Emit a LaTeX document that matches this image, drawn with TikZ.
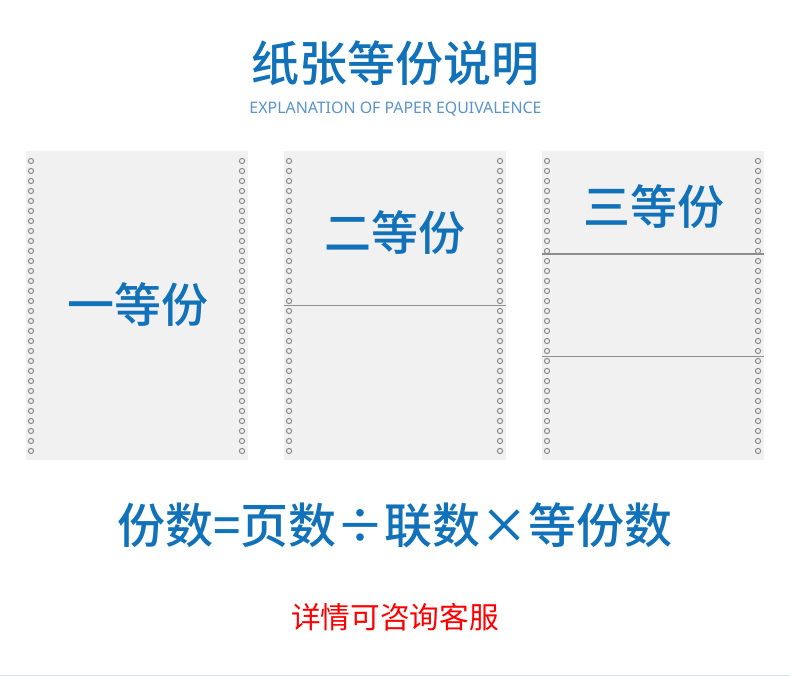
\documentclass[tikz,border=0pt]{standalone}
\usepackage{fontspec}
\newfontfamily\cjk{Noto Sans CJK SC}
\newfontfamily\cjkmed{Noto Sans CJK SC Medium}
\newfontfamily\latinsans{Noto Sans}
\definecolor{titleblue}{HTML}{1272B9}
\definecolor{subblue}{HTML}{5A94CC}
\definecolor{panelgray}{HTML}{F1F1F1}
\definecolor{holegray}{HTML}{8A8A8A}
\definecolor{divgray}{HTML}{8E8E8E}
\definecolor{bottomline}{HTML}{D6E6F5}
\begin{document}
\begin{tikzpicture}[x=1pt,y=-1pt,
  panel/.style={fill=panelgray,draw=none},
  hole/.style={draw=holegray,line width=1pt,fill=none},
  divider/.style={draw=divgray,line width=1.5pt},
  paneltext/.style={text=titleblue,font=\cjkmed\fontsize{47}{50}\selectfont,inner sep=0pt},
]
\useasboundingbox[fill=white] (0,0) rectangle (790,676);
% title
\node[text=titleblue,font=\cjkmed\fontsize{48}{52}\selectfont,inner sep=0pt] (title) at (395,63) {纸张等份说明};
\node[text=subblue,font=\latinsans\fontsize{15.9}{18}\selectfont,inner sep=0pt] (subtitle) at (395.5,109) {EXPLANATION OF PAPER EQUIVALENCE};
% panels
\foreach \px/\nm in {26/p1,284/p2,542/p3}{
  \path[panel] (\px,151) rectangle (\px+222,460);
  \foreach \i in {0,...,29}{
    \draw[hole] (\px+5,161+10*\i) circle (2.6);
    \draw[hole] (\px+216,161+10*\i) circle (2.6);
  }
}
\coordinate (d1a) at (284,305.5); \coordinate (d1b) at (506,305.5);
\draw[divider] (d1a) -- (d1b);
\coordinate (d2a) at (542,254); \coordinate (d2b) at (764,254);
\draw[divider] (d2a) -- (d2b);
\coordinate (d3a) at (542,356.5); \coordinate (d3b) at (764,356.5);
\draw[divider] (d3a) -- (d3b);
\node[paneltext] (t1) at (137.5,305) {一等份};
\node[paneltext] (t2) at (395,233) {二等份};
\node[paneltext] (t3) at (653.5,207) {三等份};
% formula
\node[text=titleblue,font=\cjkmed\fontsize{48}{52}\selectfont,inner sep=0pt] (formula) at (395,525) {份数=页数÷联数×等份数};
% note
\node[text=red,font=\cjk\fontsize{29.7}{32}\selectfont,inner sep=0pt] (note) at (395,617) {详情可咨询客服};
% bottom line
\coordinate (bl) at (0,675.5); \coordinate (br) at (790,675.5);
\draw[bottomline,line width=1pt] (bl) -- (br);
\end{tikzpicture}
\end{document}
